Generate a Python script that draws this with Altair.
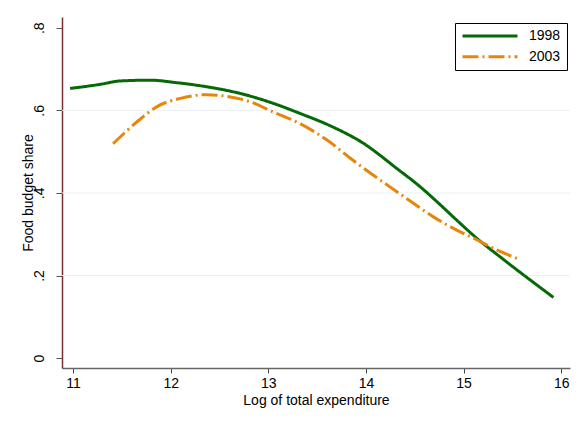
import altair as alt
import pandas as pd

# ---- data ----
x1998 = [10.97, 11.28, 11.48, 11.79, 12.06, 12.37, 12.71, 13.05, 13.33, 13.63,
         13.975, 14.317, 14.555, 14.726, 14.93, 15.136, 15.375, 15.92]
y1998 = [0.653, 0.663, 0.671, 0.673, 0.667, 0.657, 0.641, 0.617, 0.592, 0.563,
         0.520, 0.459, 0.415, 0.379, 0.334, 0.290, 0.245, 0.147]

x2003 = [11.41, 11.69, 11.86, 12.10, 12.37, 12.57, 12.81, 13.05, 13.33, 13.62,
         13.84, 14.04, 14.28, 14.45, 14.69, 14.93, 15.14, 15.34, 15.55]
y2003 = [0.519, 0.579, 0.609, 0.629, 0.638, 0.634, 0.621, 0.596, 0.567, 0.525,
         0.484, 0.449, 0.409, 0.381, 0.342, 0.310, 0.286, 0.262, 0.241]

years = ["1998", "2003"]
x_ticks = [11, 12, 13, 14, 15, 16]
y_ticks = [0, 0.2, 0.4, 0.6, 0.8]
grid_vals = [0.2, 0.4, 0.6]

df = pd.concat([
    pd.DataFrame({"x": x1998, "y": y1998, "year": "1998", "o": range(len(x1998))}),
    pd.DataFrame({"x": x2003, "y": y2003, "year": "2003", "o": range(len(x2003))}),
])
grid_df = pd.DataFrame({"y": grid_vals})

FONT = "Liberation Sans"
GREEN = "#066806"
ORANGE = "#E8860C"

xscale = alt.Scale(domain=[10.887, 16.09], nice=False, zero=False)
yscale = alt.Scale(domain=[-0.024, 0.826], nice=False, zero=False)

yaxis = alt.Axis(values=y_ticks, title="Food budget share",
                 labelExpr="datum.value == 0 ? '0' : '.' + round(datum.value*10)",
                 grid=False, domainColor="#7a2e2e", domainWidth=1.5,
                 tickColor="#555555", tickSize=6, labelPadding=17,
                 labelAngle=270, labelAlign="center", labelBaseline="middle",
                 labelFont=FONT, labelFontSize=14, labelColor="black",
                 titleFont=FONT, titleFontSize=14, titleFontWeight="normal",
                 titleColor="black", titleAngle=270, titleX=-34, titleY=175.5,
                 titleAlign="center", titleBaseline="middle")

xaxis = alt.Axis(values=x_ticks, title="Log of total expenditure",
                 grid=False, domainColor="#666666", domainWidth=1.5,
                 tickColor="#444444", tickSize=5, labelPadding=3,
                 labelFont=FONT, labelFontSize=14, labelColor="black",
                 titleFont=FONT, titleFontSize=14, titleFontWeight="normal",
                 titleColor="black", titleBaseline="alphabetic", titleY=36)

leg = alt.Legend(
    orient="none", legendX=393, legendY=6, title=None,
    symbolType="stroke", symbolSize=3025, symbolStrokeWidth=3,
    clipHeight=14, rowPadding=6.7, padding=6, labelOffset=10,
    labelFont=FONT, labelFontSize=14, labelColor="black",
    strokeColor="black", fillColor="white",
)

grid = alt.Chart(grid_df).mark_rule(color="#e8f0f3", strokeWidth=1).encode(
    y=alt.Y("y:Q", scale=yscale, axis=yaxis)
)

lines = alt.Chart(df).mark_line(strokeWidth=3, interpolate="monotone").encode(
    x=alt.X("x:Q", scale=xscale, axis=xaxis),
    y=alt.Y("y:Q", scale=yscale, axis=yaxis),
    color=alt.Color("year:N", scale=alt.Scale(domain=years, range=[GREEN, ORANGE]), legend=leg),
    strokeDash=alt.StrokeDash("year:N", scale=alt.Scale(domain=years, range=[[1, 0], [16, 4, 2, 4]]), legend=leg),
    order="o:Q",
)

border_v = alt.Chart(pd.DataFrame({"a": [0]})).mark_rule(color="#dce7ee", strokeWidth=1).encode(
    x=alt.value(-57.5), y=alt.value(-13.5), y2=alt.value(420)
)
border_h = alt.Chart(pd.DataFrame({"a": [0]})).mark_rule(color="#dce7ee", strokeWidth=1).encode(
    x=alt.value(-57.5), x2=alt.value(520), y=alt.value(-13.5)
)

chart = alt.layer(grid, lines, border_v, border_h).properties(
    width=508, height=351,
    autosize=alt.AutoSizeParams(type="none"),
    padding={"left": 54, "top": 9, "right": 1, "bottom": 46},
    background="white",
).configure_view(stroke=None)

chart.save("out.html", embed_options={"renderer": "svg", "actions": False})
